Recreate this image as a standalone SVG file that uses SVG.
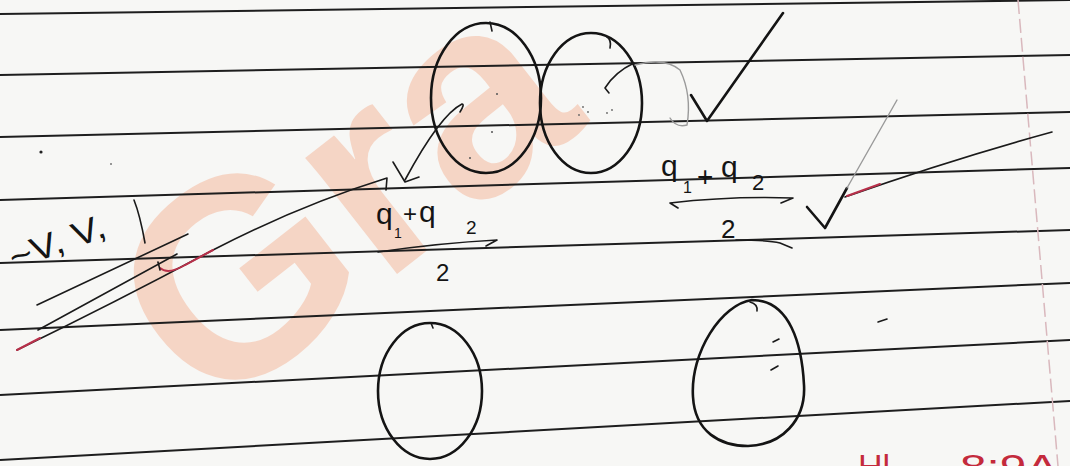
<svg xmlns="http://www.w3.org/2000/svg" width="1070" height="466" viewBox="0 0 1070 466">
<style>
.rule{stroke:#1e1e1e;stroke-width:2;fill:none}
.ink{stroke:#141414;stroke-width:2.6;fill:none;stroke-linecap:round;stroke-linejoin:round}
.thin{stroke:#1a1a1a;stroke-width:1.6;fill:none;stroke-linecap:round;stroke-linejoin:round}
.pencil{stroke:#9a9a9a;stroke-width:1.4;fill:none;stroke-linecap:round}
.red{stroke:#b8304a;stroke-width:2;fill:none;stroke-linecap:round}
.hw{font-family:"Liberation Sans",Arial,sans-serif;fill:#141414}
.redtxt{font-family:"Liberation Sans",Arial,sans-serif;fill:#c42a3c}
</style>
<rect width="1070" height="466" fill="#f7f7f5"/>
<g id="watermark">
<text x="0" y="0" transform="translate(210,420) rotate(-38)" font-family="Liberation Sans,Arial,sans-serif" font-weight="bold" font-size="280" fill="#f4a37f" opacity="0.4">Gra</text>
</g>
<g id="ruled-lines">
<line class="rule" x1="0" y1="14" x2="1070" y2="0"/>
<line class="rule" x1="0" y1="75" x2="1070" y2="55"/>
<line class="rule" x1="0" y1="137" x2="1070" y2="112"/>
<line class="rule" x1="0" y1="200" x2="1070" y2="168"/>
<line class="rule" x1="0" y1="263" x2="1070" y2="230"/>
<line class="rule" x1="0" y1="330" x2="1070" y2="283"/>
<line class="rule" x1="0" y1="395" x2="1070" y2="340"/>
<line class="rule" x1="0" y1="460" x2="1070" y2="401"/>
<line x1="1018" y1="0" x2="1058" y2="466" stroke="#d9b8bd" stroke-width="1.5" stroke-dasharray="14 5"/>
</g>
<g id="circle-top-left">
<ellipse class="ink" cx="486" cy="98" rx="55" ry="75"/>
<path class="thin" d="M490,22 L492,31"/>
<circle cx="497" cy="94" r="1" fill="#555"/><circle cx="492" cy="132" r="1" fill="#555"/><circle cx="470" cy="158" r="1" fill="#555"/>
</g>
<g id="circle-top-right">
<ellipse class="ink" cx="591" cy="103" rx="51" ry="70"/>
<path class="thin" d="M606,36 Q612,40 610,48"/>
<circle cx="583" cy="107" r="0.9" fill="#666"/><circle cx="588" cy="112" r="0.9" fill="#666"/><circle cx="579" cy="115" r="0.9" fill="#666"/><circle cx="607" cy="113" r="0.9" fill="#666"/><circle cx="612" cy="110" r="0.9" fill="#666"/>
</g>
<g id="circle-bottom-left">
<ellipse class="ink" cx="430" cy="391" rx="52" ry="68"/>
<path class="thin" d="M431,323 L433,328"/>
</g>
<g id="circle-bottom-right">
<path class="ink" d="M752,300 C722,304 690,352 693,397 C695,432 720,446 748,446 C782,445 806,420 804,385 C802,345 790,300 752,300 Z"/>
<path class="thin" d="M750,302 Q758,304 757,311"/>
<path class="thin" d="M773,342 L779,339"/>
<path class="thin" d="M771,370 L778,366"/>
<path class="thin" d="M878,322 L887,319"/>
</g>
<g id="label-left">
<text class="hw" font-size="30"><tspan x="376" y="224">q</tspan><tspan x="394" y="238" font-size="14">1</tspan><tspan x="403" y="222" font-size="24">+</tspan><tspan x="419" y="222">q</tspan><tspan x="466" y="234" font-size="19">2</tspan></text>
<path class="thin" d="M378,252 Q440,243 497,240 L486,246"/>
<text class="hw" x="436" y="281" font-size="24">2</text>
</g>
<g id="label-right">
<text class="hw" font-size="30"><tspan x="661" y="176">q</tspan><tspan x="683" y="193" font-size="16">1</tspan><tspan x="697" y="186" font-size="28">+</tspan><tspan x="721" y="177">q</tspan><tspan x="752" y="190" font-size="22">2</tspan></text>
<path class="thin" d="M678,208 L670,203 Q730,196 793,198 L781,203"/>
<text class="hw" x="721" y="238" font-size="26">2</text>
<path class="thin" d="M736,240 Q768,240 780,243 L792,248"/>
</g>
<g id="note-left">
<text class="hw" font-size="34" transform="translate(14,270) rotate(-20)" textLength="100" lengthAdjust="spacingAndGlyphs">~V, V,</text>
<path class="thin" d="M134,200 Q140,215 145,243"/>
<circle cx="41" cy="152" r="1.6" fill="#222"/>
<circle cx="111" cy="164" r="1" fill="#777"/>
</g>
<g id="note-bottom">
<text class="redtxt" x="858" y="478" font-size="34">Hl</text>
<text class="redtxt" x="960" y="478" font-size="34" textLength="98" lengthAdjust="spacingAndGlyphs">8:9A</text>
</g>
<g id="connectors">
<path class="thin" d="M460,112 Q465,104 462,104 Q440,115 405,180"/>
<path class="thin" d="M393,162 L405,182 L419,177"/>
<path class="thin" d="M634,63 Q615,72 605,88 L609,93"/>
<path class="pencil" d="M670,118 Q676,128 687,125 Q692,95 680,70 Q665,57 635,65"/>
<path class="ink" d="M691,95 L707,121 L783,13"/>
<path class="ink" d="M807,207 L825,228 L847,188"/>
<path class="pencil" d="M847,188 L897,100"/>
<path class="thin" d="M845,197 Q950,160 1052,132"/>
<path class="red" d="M847,196 L880,184"/>
<path class="thin" d="M37,305 L188,234"/>
<path class="thin" d="M38,330 L177,254"/>
<path class="thin" d="M17,350 Q120,300 213,250 Q300,205 387,178 L386,190"/>
<path class="red" d="M17,350 L40,338"/>
<path class="red" d="M160,268 Q168,275 185,265 L213,250"/>
<path class="thin" d="M158,262 L160,270"/>
</g>
</svg>
